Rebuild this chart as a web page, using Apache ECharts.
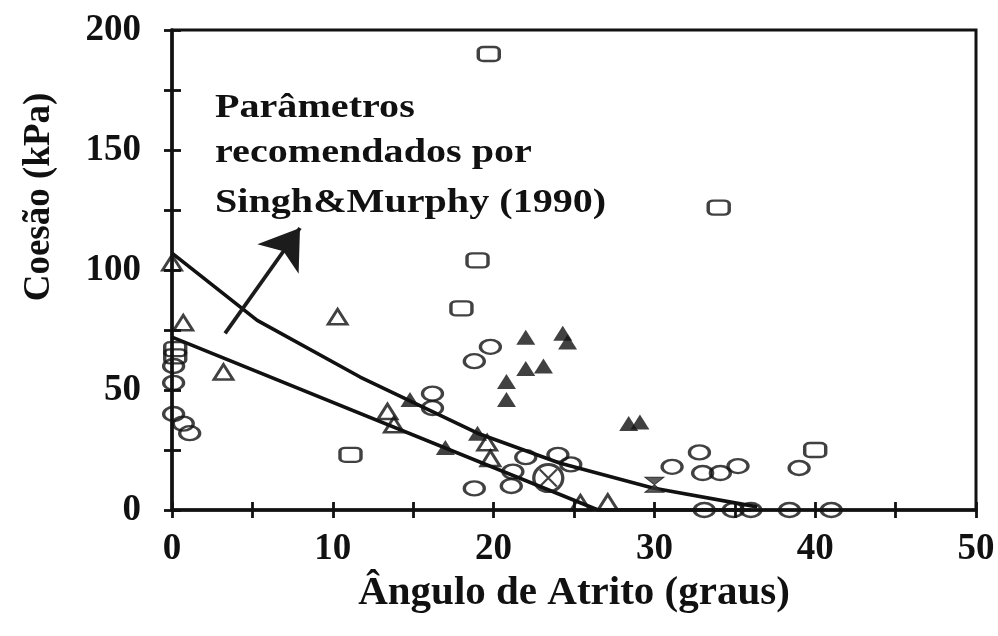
<!DOCTYPE html>
<html>
<head>
<meta charset="utf-8">
<script src="https://cdn.jsdelivr.net/npm/echarts@6/dist/echarts.min.js"></script>
<style>
html,body{margin:0;padding:0;background:#fff;}
#chart{width:998px;height:636px;}
</style>
</head>
<body>
<div id="chart"></div>
<script>
// ---- data ----
const squareX = [19.7, 19.0, 18.0, 34.0, 11.1, 40.0, 0.2, 0.2];
const squareY = [190, 104, 84, 126, 23, 25, 67, 64];

const circleX = [0.1, 0.1, 0.1, 0.7, 1.1, 18.8, 19.8, 16.2, 16.2, 18.8, 21.2, 21.1, 22.0, 24.0, 24.8, 32.8, 31.1, 33.0, 34.1, 35.2, 39.0, 33.1, 34.9, 36.0, 38.4, 41.0];
const circleY = [60, 53, 40, 36, 32, 62, 68, 48.5, 42.5, 9, 16, 10, 22, 23, 19, 24, 18, 15.4, 15.4, 18.3, 17.5, 0, 0, 0, 0, 0];

const openTriX = [0.0, 0.7, 3.2, 10.3, 13.4, 13.8, 19.6, 19.8, 25.4, 27.1];
const openTriY = [103, 78, 57.5, 80.5, 41, 35.5, 28, 21.5, 3, 3.3];

const fillTriX = [14.8, 19.0, 17.0, 22.0, 24.3, 24.6, 22.0, 23.1, 20.8, 20.8, 28.4, 29.1];
const fillTriY = [46, 32, 26, 72, 73.6, 70, 59, 60, 53.5, 46, 36, 36.7];

const hourglassX = [30.0];
const hourglassY = [10.5];

const crossCircleX = [23.4];
const crossCircleY = [13.3];

const upperLineX = [0, 5.3, 11.7, 19.0, 24.1, 29.9, 36.4];
const upperLineY = [107, 79, 55.4, 32, 19.6, 9.2, 1.3];

const lowerLineX = [0, 26.5, 36.0];
const lowerLineY = [72, 0, 0];

const arrowFrom = [3.3, 73.6];
const arrowTo = [7.96, 117.5];

const xTickLabels = [0, 10, 20, 30, 40, 50];
const yTickLabels = [0, 50, 100, 150, 200];

const annotationLines = ['Parâmetros', 'recomendados por', 'Singh&Murphy (1990)'];

// ---- helpers ----
const zip = (xs, ys) => xs.map((x, i) => [x, ys[i]]);
const INK = '#111';
const SERIF = '"Liberation Serif", "Times New Roman", Times, serif';

const chart = echarts.init(document.getElementById('chart'), null, {renderer: 'canvas'});

const openStyle = {color: 'rgba(0,0,0,0)', borderColor: INK, borderWidth: 2.8};

const baseAxis = {
  type: 'value',
  axisLine: {show: true, onZero: false, lineStyle: {color: INK, width: 3.5}},
  axisTick: {show: true, length: 8, lineStyle: {color: INK, width: 2.8}},
  splitLine: {show: false}
};

const option = {
  backgroundColor: '#fff',
  animation: false,
  grid: {left: 172, right: 22, top: 30, bottom: 126, show: true, borderColor: INK, borderWidth: 3, backgroundColor: 'rgba(0,0,0,0)'},
  xAxis: [
    Object.assign({}, baseAxis, {
      min: 0, max: 50, interval: 5, position: 'bottom',
      name: 'Ângulo de Atrito (graus)', nameLocation: 'middle', nameGap: 61,
      nameTextStyle: {fontFamily: SERIF, fontWeight: 'bold', fontSize: 41, color: INK},
      axisLabel: {
        margin: 21, fontFamily: SERIF, fontWeight: 'bold', fontSize: 37, color: INK,
        showMinLabel: true, showMaxLabel: true,
        formatter: v => xTickLabels.includes(v) ? String(v) : ''
      }
    }),
    Object.assign({}, baseAxis, {
      min: 0, max: 50, interval: 5, position: 'bottom',
      axisLine: {show: false},
      axisTick: {show: true, inside: true, length: 8, lineStyle: {color: INK, width: 2.8}},
      axisLabel: {show: false}
    })
  ],
  yAxis: [
    Object.assign({}, baseAxis, {
      min: 0, max: 200, interval: 25, position: 'left',
      name: 'Coesão (kPa)', nameLocation: 'middle', nameGap: 114, nameRotate: 90,
      nameTextStyle: {fontFamily: SERIF, fontWeight: 'bold', fontSize: 37, color: INK, padding: [0, 0, 0, 146]},
      axisLabel: {
        margin: 31, fontFamily: SERIF, fontWeight: 'bold', fontSize: 37, color: INK,
        showMinLabel: true, showMaxLabel: true,
        formatter: v => yTickLabels.includes(v) ? String(v) : ''
      }
    }),
    Object.assign({}, baseAxis, {
      min: 0, max: 200, interval: 25, position: 'left',
      axisLine: {show: false},
      axisTick: {show: true, inside: true, length: 9, lineStyle: {color: INK, width: 2.8}},
      axisLabel: {show: false}
    })
  ],
  series: [
    {
      type: 'line', name: 'upper', data: zip(upperLineX, upperLineY), showSymbol: false, silent: true,
      lineStyle: {color: INK, width: 3.6}, z: 2,
      markLine: {
        silent: true, symbol: ['none', 'arrow'], symbolSize: 38,
        label: {show: false},
        lineStyle: {type: 'solid', color: '#1c1c1c', width: 3.8},
        emphasis: {disabled: true},
        data: [[{coord: arrowFrom}, {coord: arrowTo}]]
      }
    },
    {
      type: 'line', name: 'lower', data: zip(lowerLineX, lowerLineY), showSymbol: false, silent: true,
      lineStyle: {color: INK, width: 3.6}, z: 2
    },
    {type: 'scatter', name: 'squares', data: zip(squareX, squareY), symbol: 'roundRect', symbolSize: [21, 14], itemStyle: openStyle, z: 3},
    {type: 'scatter', name: 'circles', data: zip(circleX, circleY), symbol: 'circle', symbolSize: [20, 14], itemStyle: openStyle, z: 3},
    {type: 'scatter', name: 'openTriangles', data: zip(openTriX, openTriY), symbol: 'triangle', symbolSize: [19, 15], itemStyle: openStyle, z: 3},
    {type: 'scatter', name: 'filledTriangles', data: zip(fillTriX, fillTriY), symbol: 'triangle', symbolSize: [19, 15], itemStyle: {color: INK}, z: 3},
    {type: 'scatter', name: 'hourglass', data: zip(hourglassX, hourglassY), symbol: 'path://M0,0L10,0L0,10L10,10Z', symbolSize: [19, 15], itemStyle: {color: '#333', borderColor: INK, borderWidth: 1}, z: 3},
    {type: 'scatter', name: 'crossCircle', data: zip(crossCircleX, crossCircleY), symbol: 'circle', symbolSize: [29, 27], itemStyle: {color: 'rgba(0,0,0,0)', borderColor: INK, borderWidth: 3.2}, z: 4},
    {type: 'scatter', name: 'crossCircleX', data: zip(crossCircleX, crossCircleY), symbol: 'path://M0,0L10,10M10,0L0,10', symbolSize: [17, 17], itemStyle: {color: 'rgba(0,0,0,0)', borderColor: INK, borderWidth: 2.2}, z: 4}
  ],
  graphic: annotationLines.map((t, i) => ({
    type: 'text',
    x: 215,
    y: [125, 170, 220][i],
    scaleX: 1.18,
    silent: true,
    style: {text: t, fill: INK, font: 'bold 34px ' + SERIF, verticalAlign: 'bottom', align: 'left'}
  }))
};

chart.setOption(option);
</script>
</body>
</html>
